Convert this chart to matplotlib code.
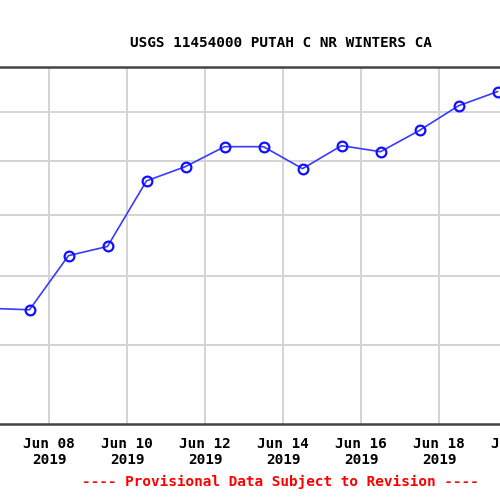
import matplotlib
matplotlib.use("Agg")
import matplotlib.pyplot as plt
import matplotlib.dates as mdates
import matplotlib.ticker as mticker
import pandas as pd

# daily mean discharge, plotted at noon of each day
dates = ["2019-06-06 12:00", "2019-06-07 12:00", "2019-06-08 12:00", "2019-06-09 12:00",
         "2019-06-10 12:00", "2019-06-11 12:00", "2019-06-12 12:00", "2019-06-13 12:00",
         "2019-06-14 12:00", "2019-06-15 12:00", "2019-06-16 12:00", "2019-06-17 12:00",
         "2019-06-18 12:00", "2019-06-19 12:00"]
flow = [75.1, 74.9, 83.2, 84.7, 96.2, 98.9, 102.8, 102.8, 98.5, 103.0, 101.8, 106.1, 111.3, 114.4]

tick_dates = ["2019-06-08", "2019-06-10", "2019-06-12", "2019-06-14",
              "2019-06-16", "2019-06-18", "2019-06-20"]
tick_labels = ["Jun 08\n2019", "Jun 10\n2019", "Jun 12\n2019", "Jun 14\n2019",
               "Jun 16\n2019", "Jun 18\n2019", "Jun 20\n2019"]
y_grid = [70, 80, 90, 100, 110]

title = "USGS 11454000 PUTAH C NR WINTERS CA"
note = "---- Provisional Data Subject to Revision ----"

font = "DejaVu Sans Mono"

fig = plt.figure(figsize=(5, 5), dpi=100)

# axes extend past the left and right edges of the picture (cropped view)
px_left, px_right = -60, 560
top_px, bot_px = 67, 424
ax = fig.add_axes([px_left / 500, 1 - bot_px / 500,
                   (px_right - px_left) / 500, (bot_px - top_px) / 500])

t = pd.to_datetime(dates)
ax.plot(t, flow, color="#3a3aff", lw=1.2, marker="o", ms=7, mfc="none",
        mec="#1010ff", mew=1.6, zorder=3)

ax.set_yscale("log")
ax.set_ylim(60, 120)
ax.yaxis.set_major_locator(mticker.FixedLocator(y_grid))
ax.yaxis.set_minor_locator(mticker.NullLocator())
ax.set_yticklabels([])
ax.tick_params(axis="y", length=0)

jun8 = mdates.date2num(pd.Timestamp("2019-06-08"))
px_per_day = 39
x0 = jun8 + (px_left - 49) / px_per_day
x1 = jun8 + (px_right - 49) / px_per_day
ax.set_xlim(x0, x1)
ax.set_xticks(mdates.date2num(pd.to_datetime(tick_dates)))
ax.set_xticklabels(tick_labels, fontfamily=font, fontweight="bold", fontsize=10.4,
                   linespacing=1.2)
ax.tick_params(axis="x", length=0, pad=9)

ax.grid(True, color="#d4d4d4", lw=1.4)
ax.set_axisbelow(True)
for s in ["left", "right"]:
    ax.spines[s].set_visible(False)
for s in ["top", "bottom"]:
    ax.spines[s].set_color("#444444")
    ax.spines[s].set_linewidth(1.8)

fig.text(281 / 500, 1 - 43 / 500, title, ha="center", va="center",
         fontfamily=font, fontweight="bold", fontsize=10.4)
fig.text(280 / 500, 1 - 482 / 500, note, ha="center", va="center",
         fontfamily=font, fontweight="bold", fontsize=10.4, color="red")

fig.savefig("out.png", dpi=100)
